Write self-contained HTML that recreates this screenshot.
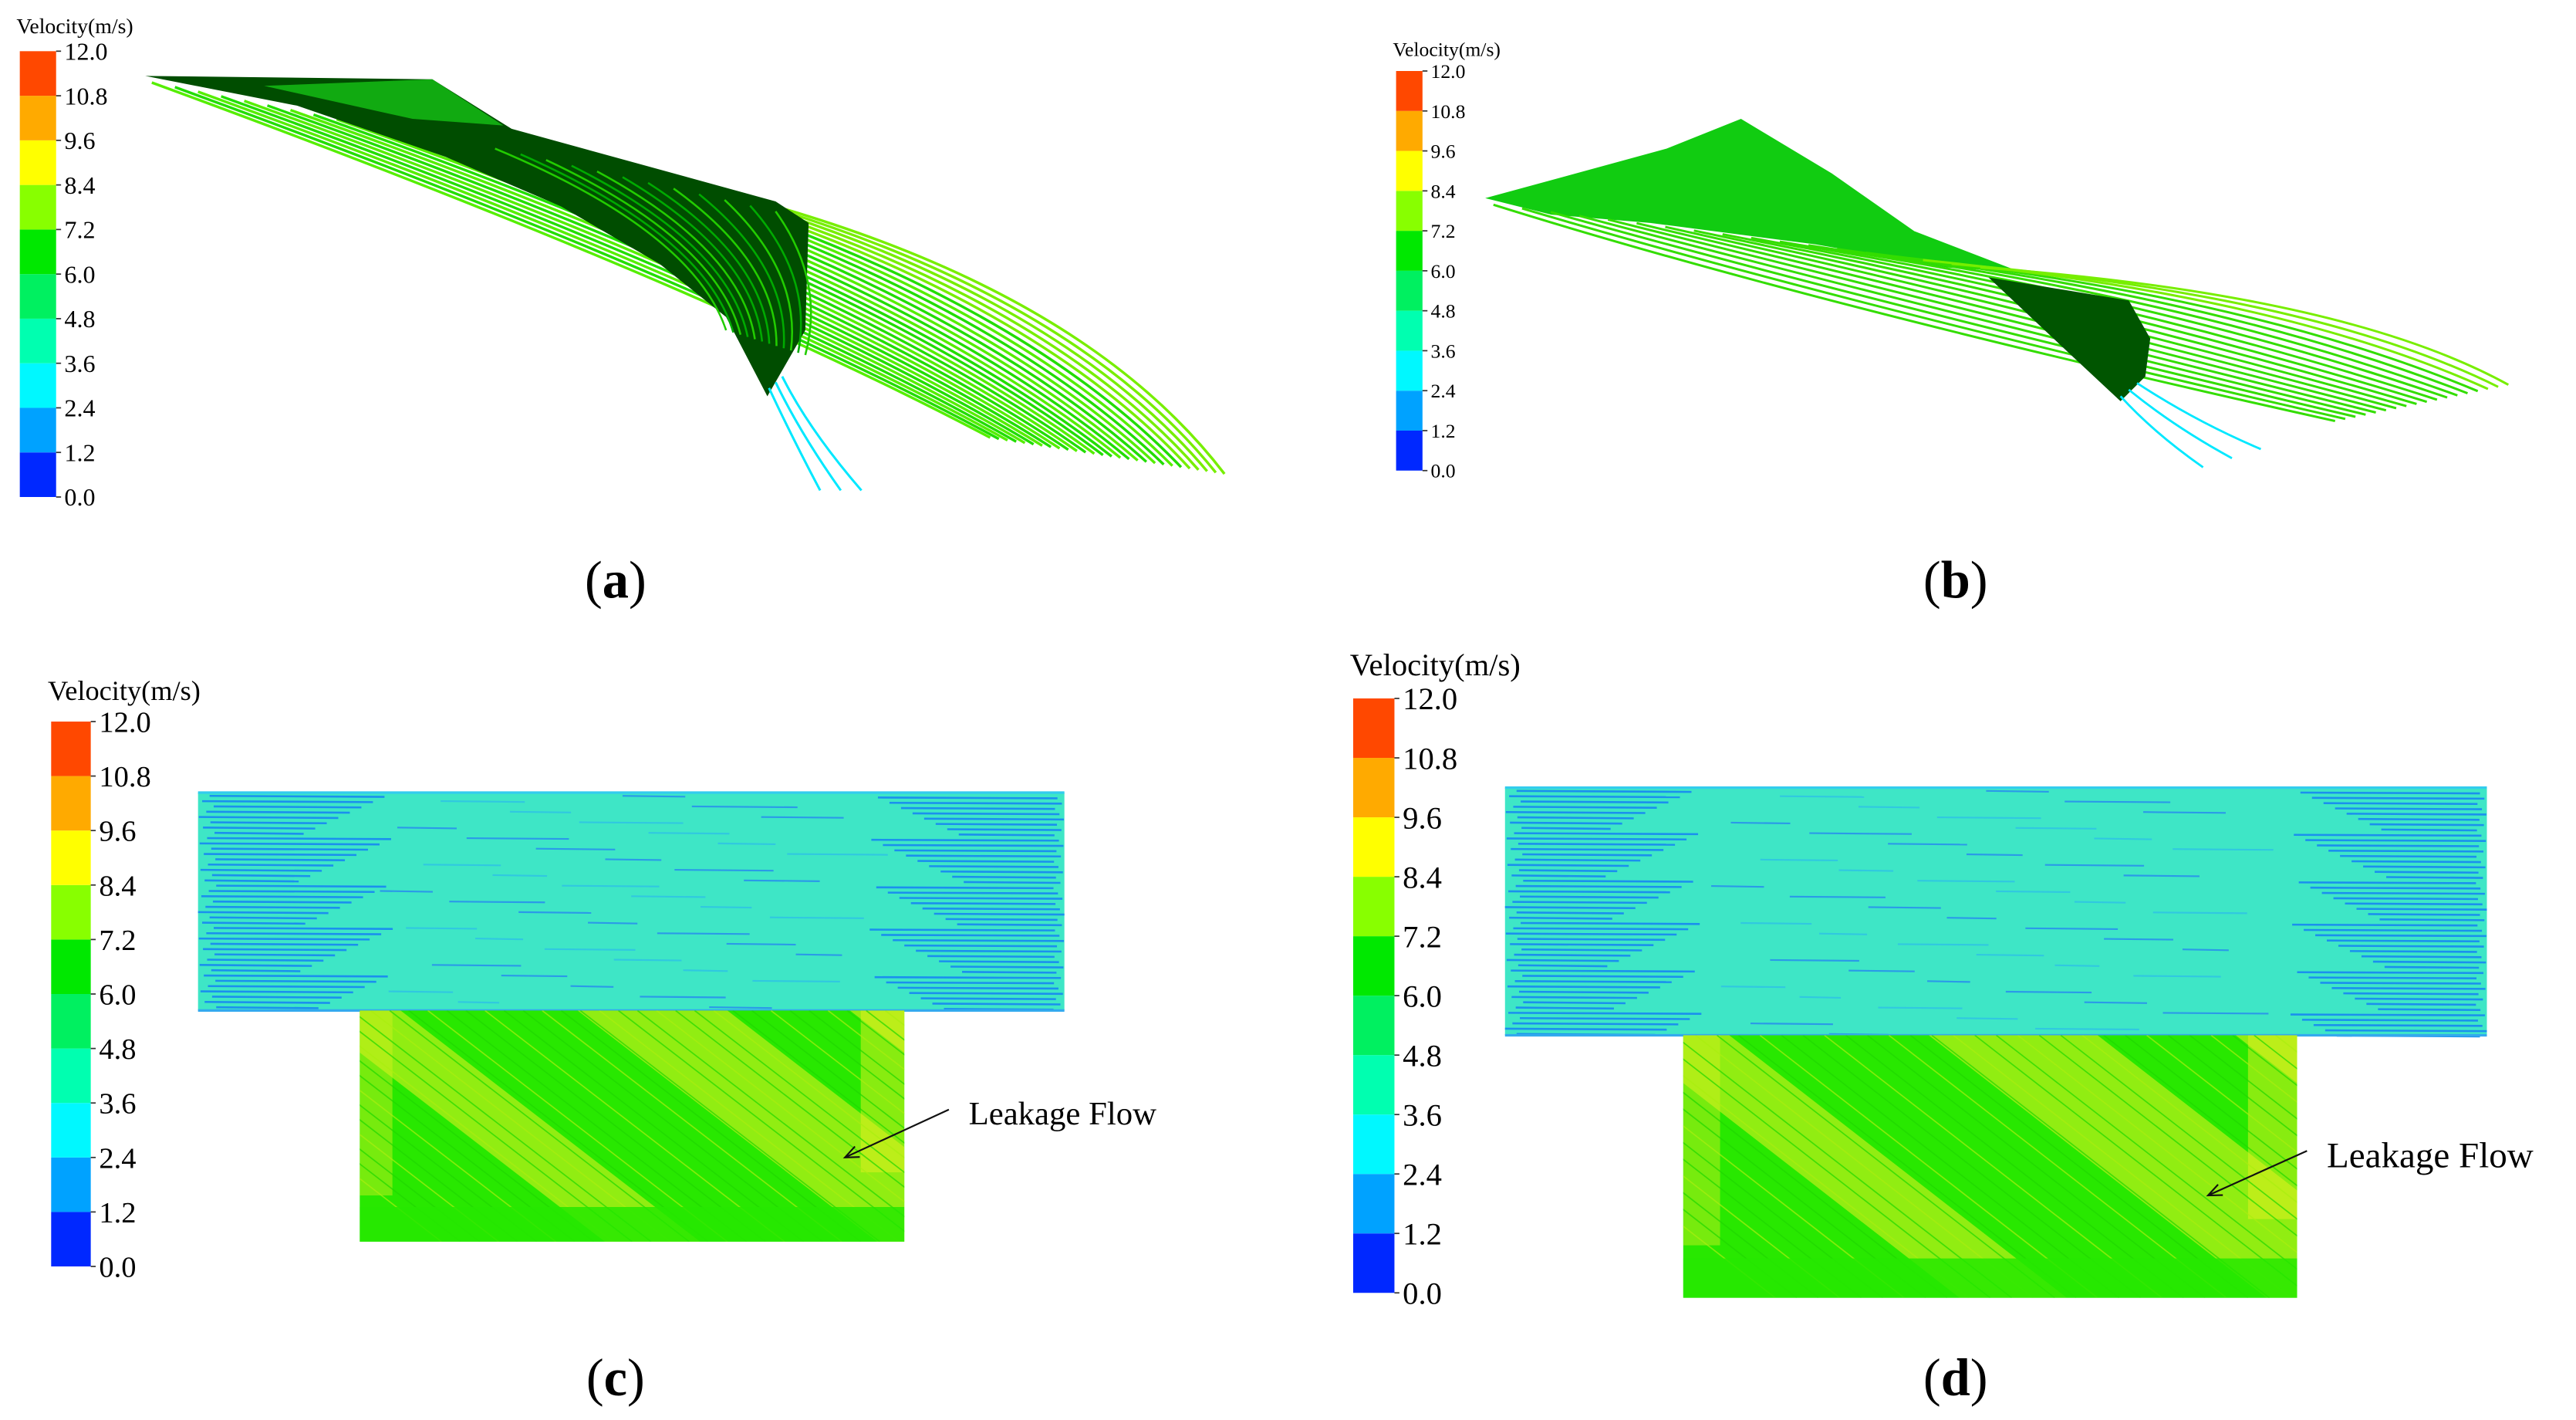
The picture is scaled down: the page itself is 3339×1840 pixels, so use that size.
<!DOCTYPE html>
<html><head><meta charset="utf-8">
<style>
html,body{margin:0;padding:0;background:#fff;}
svg{display:block;}
text{font-family:"Liberation Serif",serif;fill:#000;}
</style></head>
<body>
<svg id="fig" width="3339" height="1840" viewBox="0 0 1561 860" preserveAspectRatio="none" xmlns="http://www.w3.org/2000/svg">
<defs>
<clipPath id="clipC"><rect x="218" y="612" width="330" height="140"/></clipPath>
<clipPath id="clipD"><rect x="1020" y="627" width="372" height="159"/></clipPath>
</defs>
<g id="panelA"></g>
<g id="panelB"></g>
<g id="panelC"></g>
<g id="panelD"></g>
<text x="373" y="362" font-size="32" text-anchor="middle">(<tspan font-weight="bold">a</tspan>)</text>
<text x="1185" y="362" font-size="32" text-anchor="middle">(<tspan font-weight="bold">b</tspan>)</text>
<text x="373" y="845" font-size="32" text-anchor="middle">(<tspan font-weight="bold">c</tspan>)</text>
<text x="1185" y="845" font-size="32" text-anchor="middle">(<tspan font-weight="bold">d</tspan>)</text>
</svg>
<script>
const NS="http://www.w3.org/2000/svg";
// legend data
const tickValues=[0.0,1.2,2.4,3.6,4.8,6.0,7.2,8.4,9.6,10.8,12.0];
const bandColors=["#0028ff","#00a2ff","#00f8ff","#00ffb0","#00f060","#00e800","#88ff00","#ffff00","#ffaa00","#ff4800"];
const vMin=0,vMax=12;

function mk(parent,tag,attrs){const e=document.createElementNS(NS,tag);for(const k in attrs)e.setAttribute(k,attrs[k]);parent.appendChild(e);return e;}

function colorbar(g,x,y0,y1,w,fs,tfs,titleY){
  const sc=v=>y1-(v-vMin)/(vMax-vMin)*(y1-y0);
  const t=mk(g,"text",{x:x-2,y:titleY,"font-size":tfs});
  t.textContent="Velocity(m/s)";
  
  
  for(let i=0;i<bandColors.length;i++){
    const r=mk(g,"rect",{x:x,y:sc(tickValues[i+1]),width:w,height:sc(tickValues[i])-sc(tickValues[i+1]),fill:bandColors[i]});
    
    
  }
  for(let i=0;i<tickValues.length;i++){
    const yy=sc(tickValues[i]);
    mk(g,"line",{x1:x+w,x2:x+w+3,y1:yy,y2:yy,stroke:"#333","stroke-width":0.8});
    const l=mk(g,"text",{x:x+w+5,y:yy+fs*0.35,"font-size":fs});
    l.textContent=tickValues[i].toFixed(1);
    
    
  }
}
const gA=document.getElementById("panelA"),gB=document.getElementById("panelB"),gC=document.getElementById("panelC"),gD=document.getElementById("panelD");
colorbar(gA,12,31,301,22,15,13,20);
colorbar(gB,846,43,285,16,12,12,34);
colorbar(gC,31,437,767,24,18,17,424);
colorbar(gD,820,423,783,25,19,19,409);

function lerp(a,b,t){return a+(b-a)*t;}
function fan(g,n,s0,s1,c0,c1,e0,e1,col,wd,name){
  for(let i=0;i<n;i++){const t=i/(n-1);
    const p=mk(g,"path",{d:`M${lerp(s0[0],s1[0],t)},${lerp(s0[1],s1[1],t)} Q${lerp(c0[0],c1[0],t)},${lerp(c0[1],c1[1],t)} ${lerp(e0[0],e1[0],t)},${lerp(e0[1],e1[1],t)}`,fill:"none",stroke:typeof col==="function"?col(t):col,"stroke-width":wd});
    
    
  }
}
// Panel A
fan(gA,28,[92,50],[470,125],[420,170],[660,180],[600,265],[742,287],t=>t>0.85?"#77ee00":(Math.round(t*28)%2?"#22dd00":"#55ee00"),1.6,"streamline");
let pa=mk(gA,"polygon",{points:"88,46 262,48 310,78 470,122 490,135 488,200 465,240 440,192 400,160 340,125 270,95 180,64",fill:"#004d00"});

mk(gA,"polygon",{points:"160,52 262,48 305,76 250,72",fill:"#11aa11"});
fan(gA,12,[300,90],[470,128],[420,140],[500,170],[440,200],[488,215],t=>Math.round(t*12)%2?"#00aa00":"#22cc00",1.2,"streamline");
fan(gA,3,[466,235],[474,228],[480,265],[490,260],[497,297],[522,297],"#00e8ff",1.4,"cyan-streamline");
// Panel B
let pb=mk(gB,"polygon",{points:"900,120 1010,90 1055,72 1110,105 1160,140 1225,165 1180,162 1100,148 1000,135 940,130",fill:"#11cc11"});

fan(gB,18,[905,124],[1200,162],[1100,185],[1420,178],[1415,255],[1520,233],t=>t>0.85?"#77ee00":"#33dd00",1.4,"streamline");
let pb2=mk(gB,"polygon",{points:"1205,168 1290,182 1303,205 1300,228 1285,243 1255,215",fill:"#005500"});

fan(gB,3,[1285,240],[1295,232],[1305,262],[1330,255],[1335,283],[1370,272],"#00e8ff",1.3,"cyan-streamline");

// Panels C and D
function tipGap(g,x0,x1,yTop,yMid,bx0,bx1,yBot,clip,arrow,txt){
  const r=mk(g,"rect",{x:x0,y:yTop,width:x1-x0,height:yMid-yTop,fill:"#3ee6c6"});
  
  let k=0;
  for(let y=yTop+2;y<yMid;y+=3.2){k++;
    const off=(k*37)%23, len=(k*53)%60;
    mk(g,"line",{x1:x0+off*0.5,x2:x0+60+len,y1:y,y2:y+0.6,stroke:"#1a90ee","stroke-width":1.2});
    mk(g,"line",{x1:x1-60-len,x2:x1-off*0.3,y1:y+1,y2:y+1.5,stroke:"#1a90ee","stroke-width":1.2});
    const mx=x0+(x1-x0)*(0.2+((k*29)%50)/100);
    mk(g,"line",{x1:mx,x2:mx+25+((k*13)%40),y1:y,y2:y+0.5,stroke:k%2?"#2a9ae8":"#30c8e0","stroke-width":1});
  }
  mk(g,"line",{x1:x0,x2:x1,y1:yTop,y2:yTop,stroke:"#33ccee","stroke-width":1.5});
  mk(g,"line",{x1:x0,x2:x1,y1:yMid,y2:yMid,stroke:"#33aaee","stroke-width":1.5});
  const b=mk(g,"rect",{x:bx0,y:yMid,width:bx1-bx0,height:yBot-yMid,fill:"#28e800"});
  
  const cg=mk(g,"g",{"clip-path":`url(#${clip})`});
  const W=bx1-bx0,H=yBot-yMid;
  [[0.0,0.35],[0.5,0.55],[1.0,0.3]].forEach(([f,wf])=>{
    const xs=bx0+f*W-0.1*W;
    mk(cg,"polygon",{points:`${xs},${yMid} ${xs+wf*W*0.5},${yMid} ${xs+wf*W*0.5+W*0.55},${yBot} ${xs+W*0.55},${yBot}`,fill:"#e8f020",opacity:0.55});
  });
  mk(cg,"rect",{x:bx0,y:yMid,width:W*0.06,height:H*0.8,fill:"#d8f020",opacity:0.45});
  mk(cg,"rect",{x:bx1-W*0.08,y:yMid,width:W*0.08,height:H*0.7,fill:"#e8f020",opacity:0.5});
  for(let i=0;i<40;i++){
    const xs=bx0-W*0.4+i*(W*1.4/40);
    mk(cg,"line",{x1:xs,y1:yMid,x2:xs+W*0.55,y2:yBot,stroke:i%3?"#20d800":"#aaee10","stroke-width":0.8,opacity:0.7});
  }
  mk(cg,"rect",{x:bx0,y:yBot-H*0.15,width:W,height:H*0.15,fill:"#26e800",opacity:0.85});
  const a=mk(g,"line",{x1:arrow[0],y1:arrow[1],x2:arrow[2],y2:arrow[3],stroke:"#111","stroke-width":1});
  
  const ang=Math.atan2(arrow[3]-arrow[1],arrow[2]-arrow[0]);
  const hx=arrow[2],hy=arrow[3];
  mk(g,"polyline",{points:`${hx-9*Math.cos(ang-0.4)},${hy-9*Math.sin(ang-0.4)} ${hx},${hy} ${hx-9*Math.cos(ang+0.4)},${hy-9*Math.sin(ang+0.4)}`,fill:"none",stroke:"#111","stroke-width":1});
  const t=mk(g,"text",{x:txt[0],y:txt[1],"font-size":txt[2]});
  t.textContent="Leakage Flow";
  
}
tipGap(gC,120,645,480,612,218,548,752,"clipC",[575,672,512,701],[587,681,20]);
tipGap(gD,912,1507,477,627,1020,1392,786,"clipD",[1398,697,1338,724],[1410,707,22]);
</script>
</body></html>
